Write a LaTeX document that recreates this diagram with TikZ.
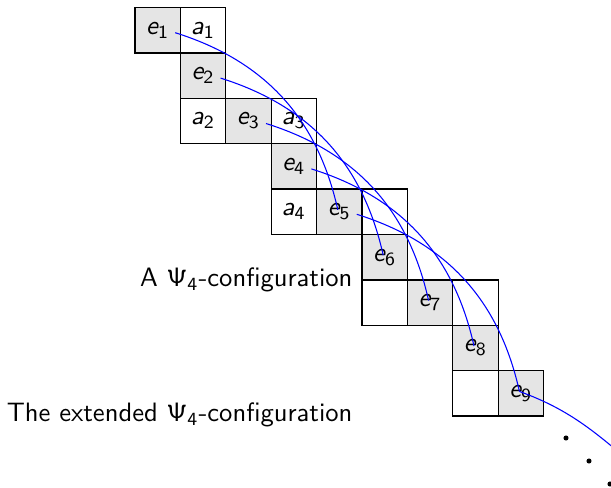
\documentclass[tikz,border=0pt]{standalone}
\usetikzlibrary{calc}
\DeclareMathAlphabet{\mathsfit}{OT1}{cmss}{m}{sl}
\begin{document}
\begin{tikzpicture}[x=0.37603pt, y=0.37603pt, font=\sffamily,
  cell/.style={draw=black, line width=0.5pt, minimum size=17.07pt, inner sep=0pt, outer sep=0pt},
  ecell/.style={cell, fill=black!10},
  acell/.style={cell, fill=white},
  link/.style={blue, line width=0.4pt},
  dotnode/.style={circle, fill=black, inner sep=0pt, minimum size=1.9pt},
  lab/.style={anchor=base east, inner sep=0pt}]
\useasboundingbox (0,0) rectangle (611,487);
% white cells
\node[acell] (a1) at (203.1,456.8) {$\mathsfit{a}_{\mathsf{1}}$};
\node[acell] (a2) at (203.1,366.0) {$\mathsfit{a}_{\mathsf{2}}$};
\node[acell] (a3) at (293.9,366.0) {$\mathsfit{a}_{\mathsf{3}}$};
\node[acell] (a4) at (293.9,275.2) {$\mathsfit{a}_{\mathsf{4}}$};
\node[acell] (w1) at (384.7,275.2) {};
\node[acell] (w2) at (384.7,184.4) {};
\node[acell] (w3) at (475.5,184.4) {};
\node[acell] (w4) at (475.5,93.6) {};
% grey cells
\node[ecell] (e1) at (157.7,456.8) {$\mathsfit{e}_{\mathsf{1}}$};
\node[ecell] (e2) at (203.1,411.4) {$\mathsfit{e}_{\mathsf{2}}$};
\node[ecell] (e3) at (248.5,366.0) {$\mathsfit{e}_{\mathsf{3}}$};
\node[ecell] (e4) at (293.9,320.6) {$\mathsfit{e}_{\mathsf{4}}$};
\node[ecell] (e5) at (339.3,275.2) {$\mathsfit{e}_{\mathsf{5}}$};
\node[ecell] (e6) at (384.7,229.8) {$\mathsfit{e}_{\mathsf{6}}$};
\node[ecell] (e7) at (430.1,184.4) {$\mathsfit{e}_{\mathsf{7}}$};
\node[ecell] (e8) at (475.5,139.0) {$\mathsfit{e}_{\mathsf{8}}$};
\node[ecell] (e9) at (520.9,93.6) {$\mathsfit{e}_{\mathsf{9}}$};
% labels
\node[lab] (l1) at (353,200.3) {A $\mathsf{\Psi}_{\mathsf{4}}$-configuration};
\node[lab] (l2) at (353,65.3) {The extended $\mathsf{\Psi}_{\mathsf{4}}$-configuration};
% connectors
\foreach \i/\j in {1/5,2/6,3/7,4/8,5/9}{
  \coordinate (s\i) at ($(e\i.center)+(17.5,-2.5)$);
  \coordinate (t\j) at ($(e\j.center)+(-1.5,2)$);
  \draw[link] (s\i) to[bend left=30] (t\j);
}
\begin{scope}
\clip (0,0) rectangle (611,487);
\coordinate (far) at (640,17);
\draw[link] (t9) to[out=-20, in=140] (far);
\node[dotnode] (d1) at (566,49) {};
\node[dotnode] (d2) at (589,26) {};
\node[dotnode] (d3) at (610,3) {};
\end{scope}
\end{tikzpicture}
\end{document}
